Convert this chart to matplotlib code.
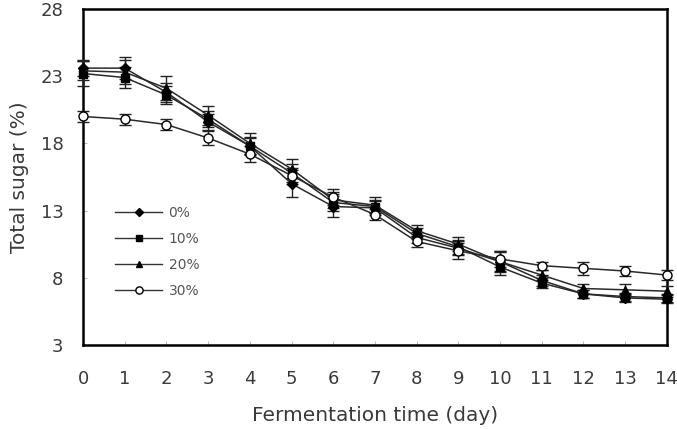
import numpy as np
import matplotlib
matplotlib.use("Agg")
import matplotlib.pyplot as plt
from matplotlib.lines import Line2D

# fermentation day
days = np.arange(0, 15)

# total sugar (%) per group
sugar_0 = [23.6, 23.6, 21.8, 19.6, 17.8, 15.0, 13.3, 13.2, 11.0, 10.2, 9.2, 7.8, 6.8, 6.5, 6.4]
sugar_10 = [23.2, 22.9, 21.6, 19.8, 17.8, 15.8, 13.6, 13.3, 11.3, 10.3, 8.8, 7.6, 6.8, 6.6, 6.5]
sugar_20 = [23.4, 23.3, 22.1, 20.1, 18.0, 16.1, 13.8, 13.4, 11.5, 10.5, 9.2, 8.2, 7.2, 7.1, 7.0]
sugar_30 = [20.0, 19.8, 19.4, 18.4, 17.2, 15.6, 14.0, 12.7, 10.7, 10.0, 9.4, 8.9, 8.7, 8.5, 8.2]

# standard deviations
err_0 = [0.6, 0.8, 0.7, 0.6, 0.7, 1.0, 0.8, 0.5, 0.4, 0.5, 0.7, 0.4, 0.3, 0.3, 0.3]
err_10 = [0.9, 0.8, 0.7, 0.6, 0.6, 0.7, 0.6, 0.5, 0.4, 0.5, 0.6, 0.4, 0.3, 0.3, 0.3]
err_20 = [0.7, 0.9, 0.9, 0.7, 0.8, 0.7, 0.6, 0.6, 0.4, 0.5, 0.8, 0.4, 0.3, 0.4, 0.4]
err_30 = [0.4, 0.4, 0.4, 0.5, 0.6, 0.6, 0.6, 0.4, 0.4, 0.6, 0.6, 0.3, 0.5, 0.4, 0.4]

labels = ["0%", "10%", "20%", "30%"]
yticks = [3, 8, 13, 18, 23, 28]

fig = plt.figure(figsize=(6.77, 4.29), dpi=100)
ax = fig.add_axes([0.1226, 0.196, 0.8624, 0.783])

styles = [
    (sugar_0, err_0, "D", "black", 5),
    (sugar_10, err_10, "s", "black", 6),
    (sugar_20, err_20, "^", "black", 6),
    (sugar_30, err_30, "o", "white", 6.5),
]

handles = []
for (vals, err, mk, fc, ms), lab in zip(styles, labels):
    ax.errorbar(days, vals, yerr=err, marker=mk, markersize=ms,
                markerfacecolor=fc, markeredgecolor="black", markeredgewidth=1.0,
                color="#2a2a2a", linewidth=1.1, ecolor="#222222",
                elinewidth=1.0, capsize=4, capthick=1.0,
                clip_on=False, zorder=3)
    handles.append(Line2D([], [], marker=mk, markersize=ms * 0.8,
                          markerfacecolor=fc, markeredgecolor="black",
                          color="#333333", linewidth=1.0, label=lab))

ax.set_xlim(0, 14)
ax.set_ylim(3, 28)
ax.set_xticks(days)
ax.set_yticks(yticks)
ax.tick_params(direction="in", length=3, width=0.6, colors="#aaaaaa",
               labelcolor="#3a3a3a", labelsize=13)
ax.tick_params(axis="x", pad=18)
ax.tick_params(axis="y", pad=14)
for s in ax.spines.values():
    s.set_linewidth(1.8)
    s.set_color("black")

ax.set_xlabel("Fermentation time (day)", fontsize=14.5, color="#3a3a3a",
              labelpad=13)
ax.set_ylabel("Total sugar (%)", fontsize=14.5, color="#3a3a3a", labelpad=8)

leg = ax.legend(handles=handles, loc="upper left",
                bbox_to_anchor=(0.055, 0.415), frameon=False,
                borderpad=0, borderaxespad=0,
                fontsize=10, handlelength=3.4, labelspacing=0.88,
                handletextpad=0.45)
for t in leg.get_texts():
    t.set_color("#555555")

fig.savefig("out.png", dpi=100)
